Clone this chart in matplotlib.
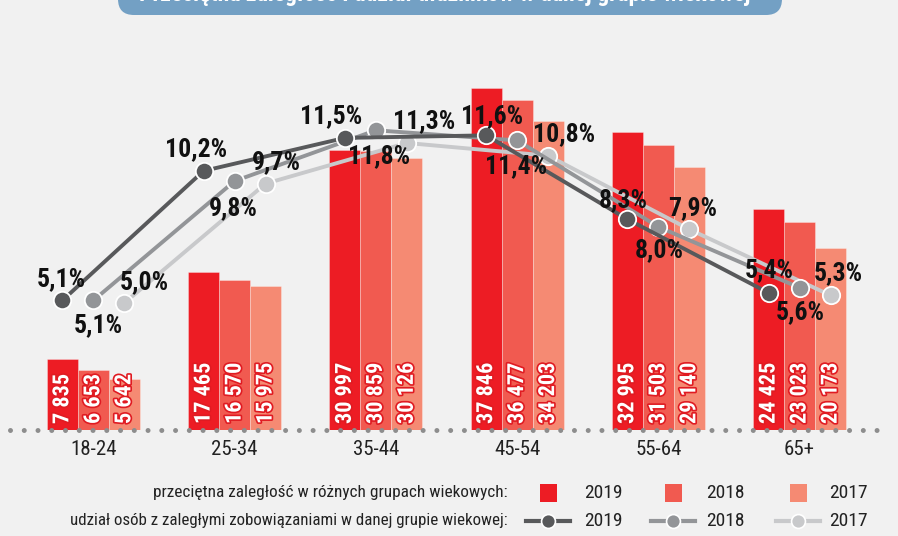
import matplotlib
matplotlib.use("Agg")
import matplotlib.pyplot as plt
import matplotlib.patheffects as pe
from matplotlib import font_manager
from matplotlib.patches import FancyBboxPatch, Rectangle
from matplotlib.lines import Line2D

# ---------------- data ----------------
categories = ["18-24", "25-34", "35-44", "45-54", "55-64", "65+"]
years = ["2019", "2018", "2017"]
debt_2019 = [7835, 17465, 30997, 37846, 32995, 24425]
debt_2018 = [6653, 16570, 30859, 36477, 31503, 23023]
debt_2017 = [5642, 15975, 30126, 34203, 29140, 20173]
share_2019 = [5.1, 10.2, 11.5, 11.6, 8.3, 5.4]
share_2018 = [5.1, 9.8, 11.8, 11.4, 8.0, 5.6]
share_2017 = [5.0, 9.7, 11.3, 10.8, 7.9, 5.3]
legend_bar_text = "przeciętna zaległość w różnych grupach wiekowych:"
legend_line_text = "udział osób z zaległymi zobowiązaniami w danej grupie wiekowej:"
title_text = "Przeciętna zaległość i udział dłużników w danej grupie wiekowej"


# ---------------- fonts ----------------
def pick_font(bold):
    prefs = ["liberationsansnarrow", "robotocondensed", "dejavusanscondensed",
             "opensanscondensed", "notosanscondensed", "notosansdisplaycondensed"]
    found = {}
    for f in font_manager.fontManager.ttflist:
        fn = f.fname.lower().replace("-", "").replace("_", "").replace(" ", "")
        base = fn.rsplit("/", 1)[-1]
        if "italic" in base or "oblique" in base:
            continue
        is_bold = ("bold" in base) and ("semi" not in base) and ("extra" not in base)
        if is_bold != bold:
            continue
        if not bold and any(w in base for w in ["light", "thin", "medium", "black", "semi"]):
            continue
        for p in prefs:
            if base.startswith(p):
                found.setdefault(p, f.fname)
    for p in prefs:
        if p in found:
            return font_manager.FontProperties(fname=found[p]), True
    fam = "Liberation Sans"
    return font_manager.FontProperties(family=fam, weight="bold" if bold else "normal"), False


FP_BOLD, cond_b = pick_font(True)
FP_REG, cond_r = pick_font(False)
sb = 1.0 if cond_b else 0.86
sr = 1.0 if cond_r else 0.86


def fb(size):
    p = FP_BOLD.copy()
    p.set_size(size * sb)
    return p


def fr(size):
    p = FP_REG.copy()
    p.set_size(size * sr)
    return p


# ---------------- style ----------------
W, H = 898, 536
BG = "#F1F1F1"
bar_colors = ["#ED1C24", "#F15A50", "#F58A73"]
line_colors = ["#58595B", "#939598", "#C8C9CB"]
label_offsets = [
    [(-1, 21), (-8, 22), (-14, 22), (6, 19), (-4, 19), (1, 23)],     # 2019
    [(5, -25), (-1, -27), (3, -26), (-1, -26), (1, -23), (1, -24)],  # 2018
    [(20, 21), (11, 21), (17, 22), (16, 21), (3, 21), (8, 22)],      # 2017
]

fig = plt.figure(figsize=(W / 100, H / 100), dpi=100, facecolor=BG)

ax_left, ax_right = 10 / W, 890 / W
ax_bottom_px, ax_top_px = 430, 30
ax = fig.add_axes([ax_left, (H - ax_bottom_px) / H, ax_right - ax_left,
                   (ax_bottom_px - ax_top_px) / H])
ax.set_facecolor("none")
bw = 0.2195
xs = list(range(len(categories)))
ax.set_xlim(-0.59, 5.64)
ax.set_ylim(0, 44250)

debts = [debt_2019, debt_2018, debt_2017]
shares = [share_2019, share_2018, share_2017]
offs = [-bw, 0, bw]

for k in range(3):
    xpos = [x + offs[k] for x in xs]
    ax.bar(xpos, debts[k], width=bw, color=bar_colors[k],
           edgecolor=(1, 1, 1, 0.35), linewidth=0.6, zorder=2)
    for xp, v in zip(xpos, debts[k]):
        ax.annotate(f"{v:,}".replace(",", " "), xy=(xp, 0), xytext=(0, 6),
                    textcoords="offset pixels", rotation=90, ha="center",
                    va="bottom", fontproperties=fb(16),
                    color="white", zorder=3,
                    path_effects=[pe.Stroke(linewidth=2.4, foreground="#E01B22"),
                                  pe.Normal()])

ax.axhline(0, color="#8D8D8D", lw=3.6, ls=(0, (0.001, 2.75)),
           dash_capstyle="round", zorder=4, clip_on=False)

ax2 = ax.twinx()
ax2.set_ylim(0, 400 / 25.4)
ax2.set_xlim(ax.get_xlim())
ax2.axis("off")

ax.set_xticks(xs)
ax.set_xticklabels(categories, fontproperties=fr(15), color="#222222")
ax.tick_params(axis="x", length=0, pad=7)
ax.tick_params(axis="y", left=False, right=False, labelleft=False, labelright=False)
for s in ax.spines.values():
    s.set_visible(False)

for k in [2, 1, 0]:
    xpos = [x + offs[k] for x in xs]
    ax2.plot(xpos, shares[k], color=line_colors[k], lw=2.8, marker="o",
             markersize=12.5, markerfacecolor=line_colors[k],
             markeredgecolor="white", markeredgewidth=1.3, zorder=5 + (3 - k))
for k in range(3):
    xpos = [x + offs[k] for x in xs]
    for i, (xp, v) in enumerate(zip(xpos, shares[k])):
        dx, dy = label_offsets[k][i]
        ax2.annotate(f"{v:.1f}%".replace(".", ","), xy=(xp, v),
                     xytext=(dx, dy), textcoords="offset pixels",
                     ha="center", va="center", fontproperties=fb(18.5),
                     color="#111111", zorder=10)

# ---------------- overlay (title box + legend) ----------------
ov = fig.add_axes([0, 0, 1, 1])
ov.set_xlim(0, W)
ov.set_ylim(H, 0)
ov.axis("off")
ov.set_zorder(20)
box = FancyBboxPatch((118, -40), 664, 55, boxstyle="round,pad=0,rounding_size=16",
                     facecolor="#73A0C4", edgecolor="none")
ov.add_patch(box)
ov.text(445, 0.5, title_text, ha="center", va="baseline", fontproperties=fb(17),
        color="white", clip_on=True)

row1, row2 = 493, 521
ov.text(508, row1, legend_bar_text, ha="right", va="center", fontproperties=fr(12.4),
        color="#222222")
ov.text(508, row2, legend_line_text, ha="right", va="center", fontproperties=fr(12.2),
        color="#222222")
icon_x = [548, 673, 798]
text_x = [584, 706, 829]
for k in range(3):
    ov.add_patch(Rectangle((icon_x[k] - 8.5, row1 - 9), 17, 18,
                           facecolor=bar_colors[k], edgecolor="none"))
    ov.add_line(Line2D([icon_x[k] - 22, icon_x[k] + 22], [row2, row2],
                       color=line_colors[k], lw=3))
    ov.plot([icon_x[k]], [row2], marker="o", markersize=10,
            markerfacecolor=line_colors[k], markeredgecolor="white",
            markeredgewidth=1.2)
    ov.text(text_x[k], row1, years[k], ha="left", va="center", fontproperties=fr(14),
            color="#222222")
    ov.text(text_x[k], row2, years[k], ha="left", va="center", fontproperties=fr(14),
            color="#222222")

fig.savefig("out.png", dpi=100, facecolor=BG)
